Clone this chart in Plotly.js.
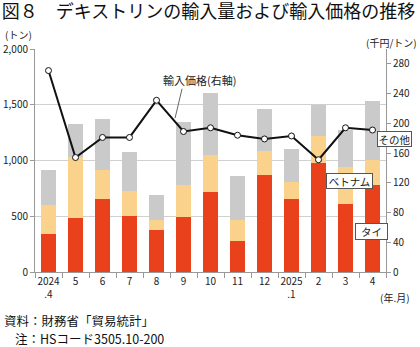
<!DOCTYPE html>
<html>
<head>
<meta charset="utf-8">
<script src="https://cdn.plot.ly/plotly-3.0.1.min.js"></script>
<style>html,body{margin:0;padding:0;background:#fff;}#chart{width:420px;height:347px;}</style>
</head>
<body>
<div id="chart"></div>
<script>
const months = ["2024<br>.4","5","6","7","8","9","10","11","12","2025<br>.1","2","3","4"];
const thai    = [345, 488, 655, 506, 374, 494, 715, 276, 874, 653, 978, 608, 776];
const vietnam = [260, 544, 264, 218,  90, 284, 332, 194, 212, 155, 246, 335, 227];
const others  = [308, 291, 449, 353, 231, 563, 554, 395, 372, 291, 270, 329, 527];
const price   = [271, 154, 181, 181, 231, 189, 194, 184, 179, 183, 151, 194, 191];

const FONT = "'Noto Sans CJK JP', 'Noto Sans', sans-serif";
const TXT = "#222";

const traces = [
  {type:"bar", name:"タイ", x:months, y:thai, marker:{color:"#E8411B", line:{width:0}}},
  {type:"bar", name:"ベトナム", x:months, y:vietnam, marker:{color:"#FBD28C", line:{width:0}}},
  {type:"bar", name:"その他", x:months, y:others, marker:{color:"#CACACA", line:{width:0}}},
  {type:"scatter", mode:"lines+markers", name:"輸入価格（右軸）", x:months, y:price, yaxis:"y2",
   line:{color:"#111", width:2},
   marker:{size:6, color:"#fff", line:{color:"#111", width:1}}}
];

function ann(text, x, y, extra) {
  return Object.assign({text:text, xref:"paper", yref:"paper", x:x, y:y, xanchor:"center", yanchor:"middle",
                        showarrow:false, font:{size:10, color:TXT}}, extra || {});
}

const layout = {
  width:420, height:347,
  margin:{l:35, r:34, t:49, b:75, pad:0},
  paper_bgcolor:"#fff", plot_bgcolor:"#fff",
  font:{family:FONT, size:10, color:TXT},
  showlegend:false,
  barmode:"stack",
  bargap:0.44,
  title:{text:"図８　デキストリンの輸入量および輸入価格の推移", x:0.004, xref:"container", xanchor:"left",
         y:0.966, yref:"container", yanchor:"middle", font:{family:FONT, size:18, color:"#111"}},
  xaxis:{type:"category", range:[-0.5,12.5], tickson:"boundaries", ticks:"outside", ticklen:5,
         tickangle:0, tickcolor:"#999", showline:true, linecolor:"#999", linewidth:1, showgrid:false,
         tickfont:{family:FONT, size:10, color:TXT}, fixedrange:true},
  yaxis:{range:[0,2000], dtick:500, tickformat:",d", ticks:"outside", ticklen:4, tickcolor:"#999",
         showline:true, linecolor:"#999", showgrid:true, gridcolor:"#d0d0d0", gridwidth:1,
         zeroline:false, tickfont:{family:FONT, size:10, color:TXT}},
  yaxis2:{overlaying:"y", side:"right", range:[0,300], tickvals:[0,40,80,120,160,200,240,280],
          ticks:"outside", ticklen:4, tickcolor:"#999", showline:true, linecolor:"#999",
          showgrid:false, zeroline:false, tickfont:{family:FONT, size:10, color:TXT}},
  shapes:[
    {type:"line", xref:"paper", yref:"paper", x0:0.419, y0:0.822, x1:0.399, y1:0.690,
     line:{color:"#666", width:1}}
  ],
  annotations:[
    ann("(トン)", -0.046, 1.063),
    ann("(千円/トン)", 1.017, 1.027),
    ann("(年.月)", 1.026, -0.114),
    ann("輸入価格(右軸)", 0.470, 0.861, {font:{size:11, color:TXT}}),
    ann("その他", 1.024, 0.597, {font:{size:10.5, color:TXT}, bgcolor:"#fff", bordercolor:"#555", borderwidth:1, borderpad:0, width:33, height:14}),
    ann("ベトナム", 0.897, 0.407, {font:{size:10.5, color:TXT}, bgcolor:"#fff", bordercolor:"#555", borderwidth:1, borderpad:0, width:45, height:14}),
    ann("タイ", 0.959, 0.183, {font:{size:10.5, color:TXT}, bgcolor:"#fff", bordercolor:"#555", borderwidth:1, borderpad:0, width:31, height:15}),
    ann("資料：財務省「貿易統計」", -0.094, -0.218, {xanchor:"left", font:{size:12.5, color:"#111"}}),
    ann("注：HSコード3505.10-200", -0.063, -0.298, {xanchor:"left", font:{size:12.5, color:"#111"}})
  ]
};

Plotly.newPlot("chart", traces, layout, {displayModeBar:false, staticPlot:true});
</script>
</body>
</html>
